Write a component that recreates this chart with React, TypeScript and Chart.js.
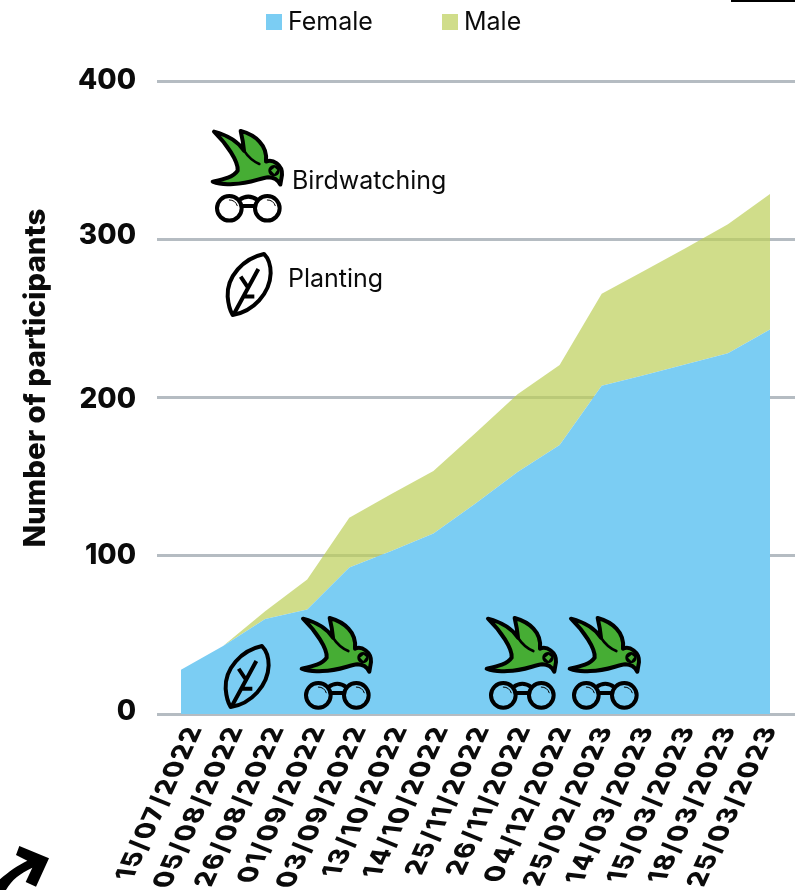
import React, { useEffect, useRef } from "react";
import { Chart, registerables } from "chart.js";

Chart.register(...registerables);

const dates = [
  "15/07/2022", "05/08/2022", "26/08/2022", "01/09/2022", "03/09/2022",
  "13/10/2022", "14/10/2022", "25/11/2022", "26/11/2022", "04/12/2022",
  "25/02/2023", "14/03/2023", "15/03/2023", "18/03/2023", "25/03/2023",
];
const female = [28, 43, 60, 66, 92.5, 103, 114, 133, 153, 170, 207.5, 214, 221, 228, 243];
const male = [0, 0, 5, 19, 31.5, 36, 39.5, 44.5, 49, 50.5, 58, 66, 73.5, 81.5, 85.6];
const yTicks = [0, 100, 200, 300, 400];
const yLabelDrop = [6, 8, 10, 4.3, 8];

// Activity symbols, placed in data space: x is a fractional date index, y a participant count.
const birdIndex = [2.567, 6.964, 8.937];
const birdCount = [67.6, 67.6, 67.6];
const leafIndex = [0.404];
const leafCount = [127.6];
const keyIndex = 0.4516;
const keyCount = 375.4;

const BLUE = "#7bcdf3";
const GREEN = "rgba(188,206,89,0.7)";
const GRID = "#b5bcc2";
const INK = "#0b0b0b";
const BOLD = "Inter, 'Liberation Sans', sans-serif";

const birdBody = new Path2D(
  "M42 35 C80 45 112 62 132 92 C130 70 126 50 122 33 C165 45 204 75 198 125 C218 116 248 135 246 165 L241 194 C232 177 220 172 205 172 C180 174 150 192 100 192 C80 194 55 192 38 185 C70 178 100 172 113 152 C116 125 80 72 42 35 Z"
);
const birdEye = new Path2D(
  "M222 135 A17 17 0 1 1 221.9 135 Z M224 143 L232 150 L223 162 L213 152 Z"
);
const leafOutline = new Path2D(
  "M192 402 C130 415 80 470 83 530 C85 555 92 575 98 585 C160 575 210 520 212 460 C212 435 205 415 192 402 Z"
);
const arrowShape = new Path2D(
  "M58 48 L147 85 L108 170 L77 156 L97 113 C60 130 35 150 18 180 L0 180 L0 148 C25 125 55 105 82 92 L48 75 Z"
);

function drawBird(ctx: CanvasRenderingContext2D, x: number, y: number) {
  ctx.save();
  ctx.translate(x, y);
  ctx.scale(1 / 3, 1 / 3);
  ctx.lineJoin = "round";
  ctx.lineCap = "round";
  ctx.strokeStyle = "#000";
  ctx.fillStyle = "#46ad34";
  ctx.lineWidth = 12;
  ctx.fill(birdBody);
  ctx.stroke(birdBody);
  ctx.beginPath();
  ctx.moveTo(132, 92);
  ctx.quadraticCurveTo(150, 120, 178, 132);
  ctx.lineWidth = 8;
  ctx.stroke();
  ctx.fillStyle = "#000";
  ctx.fill(birdEye, "evenodd");
  // binoculars beneath the bird
  ctx.lineWidth = 12;
  ctx.beginPath();
  ctx.arc(88, 265, 37, 0, Math.PI * 2);
  ctx.moveTo(239, 265);
  ctx.arc(202, 265, 37, 0, Math.PI * 2);
  ctx.moveTo(118, 240);
  ctx.quadraticCurveTo(145, 220, 172, 240);
  ctx.moveTo(125, 258);
  ctx.lineTo(165, 258);
  ctx.stroke();
  ctx.lineWidth = 3;
  ctx.beginPath();
  ctx.arc(88, 265, 25, -Math.PI / 2, -Math.PI / 10);
  ctx.moveTo(202, 240);
  ctx.arc(202, 265, 25, -Math.PI / 2, -Math.PI / 10);
  ctx.stroke();
  ctx.restore();
}

function drawLeaf(ctx: CanvasRenderingContext2D, x: number, y: number) {
  ctx.save();
  ctx.translate(x, y);
  ctx.scale(1 / 3, 1 / 3);
  ctx.lineJoin = "round";
  ctx.strokeStyle = "#000";
  ctx.lineWidth = 12;
  ctx.stroke(leafOutline);
  ctx.beginPath();
  ctx.moveTo(100, 585);
  ctx.lineTo(175, 447);
  ctx.moveTo(122, 470);
  ctx.lineTo(146, 506);
  ctx.moveTo(130, 530);
  ctx.lineTo(163, 530);
  ctx.stroke();
  ctx.restore();
}

const decorations = {
  id: "decorations",
  afterDraw(chart: any) {
    const ctx: CanvasRenderingContext2D = chart.ctx;
    const xs = chart.scales.x;
    const ys = chart.scales.y;

    ctx.save();
    ctx.fillStyle = INK;

    // value axis labels
    ctx.font = `800 28px ${BOLD}`;
    ctx.textAlign = "right";
    ctx.textBaseline = "alphabetic";
    yTicks.forEach((v, i) => {
      ctx.fillText(String(v), 136, ys.getPixelForValue(v) + yLabelDrop[i]);
    });

    // value axis title
    ctx.save();
    ctx.translate(45, 378);
    ctx.rotate(-Math.PI / 2);
    ctx.textAlign = "center";
    ctx.font = `800 29.5px ${BOLD}`;
    ctx.fillText("Number of participants", 0, 0);
    ctx.restore();

    // date labels: slanted and sheared, ending just under the baseline
    ctx.font = `800 26.5px ${BOLD}`;
    ctx.textAlign = "right";
    (ctx as any).letterSpacing = "1.6px";
    dates.forEach((d, i) => {
      ctx.save();
      ctx.transform(0.42, -0.91, 0.99, 0.12, xs.getPixelForValue(i) + 22 - i * 1.02, 727);
      ctx.fillText(d, 0, 0);
      ctx.restore();
    });
    (ctx as any).letterSpacing = "0px";

    // legend
    ctx.textAlign = "left";
    ctx.font = `400 25px Inter, sans-serif`;
    const legend = [
      { swatch: 266, text: 288, ds: 0 },
      { swatch: 442, text: 464, ds: 1 },
    ];
    legend.forEach((l) => {
      const set = chart.data.datasets[l.ds];
      ctx.fillStyle = set.backgroundColor;
      ctx.fillRect(l.swatch, 14, 16, 16);
      ctx.fillStyle = INK;
      ctx.fillText(set.label, l.text, 30);
    });

    // activity key
    ctx.fillText("Birdwatching", 292, 189);
    ctx.fillText("Planting", 288, 287);
    drawBird(ctx, xs.getPixelForValue(keyIndex), ys.getPixelForValue(keyCount));
    drawLeaf(ctx, xs.getPixelForValue(keyIndex), ys.getPixelForValue(keyCount));

    birdIndex.forEach((v, i) => {
      drawBird(ctx, xs.getPixelForValue(v), ys.getPixelForValue(birdCount[i]));
    });
    leafIndex.forEach((v, i) => {
      drawLeaf(ctx, xs.getPixelForValue(v), ys.getPixelForValue(leafCount[i]));
    });

    // page furniture
    ctx.fillStyle = "#000";
    ctx.fillRect(731, 0, 64, 2);
    ctx.translate(0, 830);
    ctx.scale(1 / 3, 1 / 3);
    ctx.fill(arrowShape);
    ctx.restore();
  },
};

export default function App() {
  const ref = useRef<HTMLCanvasElement>(null);

  useEffect(() => {
    const chart = new Chart(ref.current!, {
      type: "line",
      data: {
        datasets: [
          {
            label: "Female",
            data: female.map((y, x) => ({ x, y })),
            backgroundColor: BLUE,
            borderWidth: 0,
            pointRadius: 0,
            fill: "origin",
            tension: 0,
          },
          {
            label: "Male",
            data: male.map((y, x) => ({ x, y })),
            backgroundColor: GREEN,
            borderWidth: 0,
            pointRadius: 0,
            fill: "-1",
            tension: 0,
          },
        ],
      },
      options: {
        animation: false,
        responsive: false,
        layout: { padding: { top: 81 } },
        plugins: { legend: { display: false }, tooltip: { enabled: false } },
        scales: {
          x: {
            type: "linear",
            min: -24 / 42.07,
            max: 14 + 25 / 42.07,
            grid: { display: false },
            border: { display: false },
            ticks: { display: false },
            afterBuildTicks: (s: any) => {
              s.ticks = dates.map((_, value) => ({ value }));
            },
            afterFit: (s: any) => {
              s.height = 176;
            },
          },
          y: {
            stacked: true,
            min: 0,
            max: 400,
            grid: { color: GRID, lineWidth: 3, drawTicks: false },
            border: { display: false },
            ticks: { display: false, stepSize: 100 },
            afterFit: (s: any) => {
              s.width = 157;
            },
          },
        },
      },
      plugins: [decorations],
    });
    return () => chart.destroy();
  }, []);

  return (
    <div style={{ position: "fixed", left: 0, top: 0, width: 795, height: 890, background: "#fff" }}>
      <canvas ref={ref} width={795} height={890} style={{ display: "block" }} />
    </div>
  );
}
